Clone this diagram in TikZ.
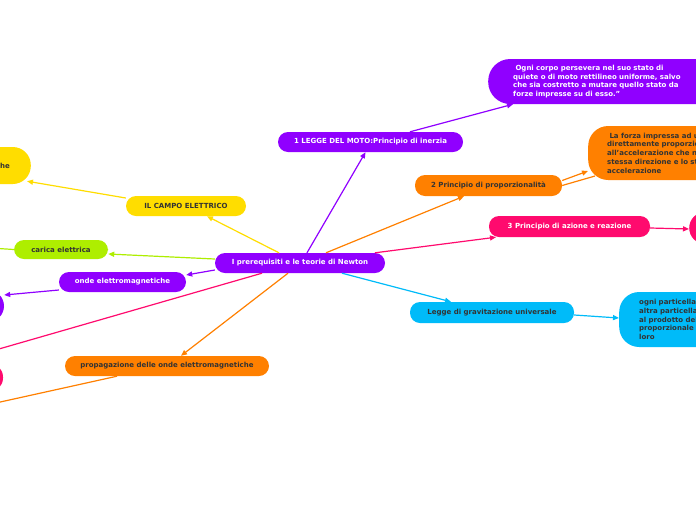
\documentclass[tikz,border=0pt]{standalone}
\usepackage{fontspec}
\setmainfont{DejaVu Sans}
\usepackage{tikz}
\usetikzlibrary{arrows.meta, positioning}
\definecolor{mapviolet}{HTML}{9000FF}
\definecolor{maporange}{HTML}{FF8000}
\definecolor{mappink}{HTML}{FF0A6E}
\definecolor{mapcyan}{HTML}{00BBF9}
\definecolor{mapyellow}{HTML}{FFDD00}
\definecolor{maplime}{HTML}{AEEE00}
\definecolor{maptext}{HTML}{333333}

\begin{document}
\begin{tikzpicture}[x=1pt, y=-1pt, >={Triangle[length=6pt,width=5pt]},
  topic/.style={rectangle, rounded corners=10pt, minimum height=20pt, inner sep=0pt, font=\fontsize{7}{9}\selectfont\bfseries},
  light/.style={topic, text=white},
  dark/.style={topic, text=maptext},
  textbox/.style={rectangle, rounded corners=20pt, align=left, inner ysep=3pt, font=\fontsize{7}{8.8}\selectfont\bfseries},
  link/.style={->, line width=1.2pt}]

  \useasboundingbox (0,0) rectangle (696,520);
  \clip (0,0) rectangle (696,520);
  \fill[white] (0,0) rectangle (696,520);

  \node [light, fill=mapviolet, minimum width=170pt] (newton) at (300,263) {I prerequisiti e le teorie di Newton};

  \node [light, fill=mapviolet, minimum width=185pt] (moto) at (370.5,142) {1 LEGGE DEL MOTO:Principio di inerzia};
  \node [textbox, fill=mapviolet, text=white, text width=200pt, inner xsep=25pt, minimum height=45pt, rounded corners=22pt, anchor=west] (inerzia) at (488,81.5) {%
    \ Ogni corpo persevera nel suo stato di\\
    quiete o di moto rettilineo uniforme, salvo\\
    che sia costretto a mutare quello stato da\\
    forze impresse su di esso.''};

  \node [dark, fill=maporange, minimum width=147pt, minimum height=21pt] (prop) at (488.5,185.5) {2 Principio di proporzionalità};
  \node [textbox, fill=maporange, text=maptext, text width=150pt, inner xsep=19pt, minimum height=54pt, anchor=west] (forza) at (588,153) {%
    \ La forza impressa ad un\\
    direttamente proporzionale\\
    all'accelerazione che ne\\
    stessa direzione e lo stesso\\
    accelerazione};

  \node [light, fill=mappink, minimum width=161pt, minimum height=21pt] (azione) at (569.5,226.5) {3 Principio di azione e reazione};
  \node [topic, fill=mappink, minimum width=60pt, minimum height=32pt, rounded corners=16pt, anchor=west] (reazione) at (689,228) {};

  \node [dark, fill=mapcyan, minimum width=164pt, minimum height=21pt] (grav) at (492,312.5) {Legge di gravitazione universale};
  \node [textbox, fill=mapcyan, text=maptext, text width=120pt, inner xsep=20pt, minimum height=55pt, anchor=west] (particella) at (619,319.5) {%
    ogni particella\\
    altra particella\\
    al prodotto delle\\
    proporzionale\\
    loro};

  \node [dark, fill=mapyellow, minimum width=120pt] (campo) at (186,206) {IL CAMPO ELETTRICO};
  \node [dark, fill=mapyellow, minimum height=37pt, rounded corners=18pt, inner xsep=21pt, anchor=east] (cariche) at (31,165.5) {cariche};

  \node [dark, fill=maplime, minimum width=94pt, minimum height=19pt] (carica) at (61,249.5) {carica elettrica};
  \coordinate (caricaout) at (-40,246);

  \node [light, fill=mapviolet, minimum width=127pt] (onde) at (122.5,282) {onde elettromagnetiche};
  \node [topic, fill=mapviolet, minimum width=60pt, minimum height=32pt, rounded corners=16pt] (ondeout) at (-26,306) {};

  \node [topic, fill=mappink, minimum width=80pt, minimum height=29pt, rounded corners=14pt] (pinkout) at (-37,377.5) {};

  \node [dark, fill=maporange, minimum width=204pt] (propag) at (167,366) {propagazione delle onde elettromagnetiche};
  \coordinate (propagout) at (-45,412);

  \draw[link, mapviolet] ([xshift=7pt]newton.north) -- ([xshift=-5pt]moto.south);
  \draw[link, mapyellow] ([xshift=-21pt]newton.north) -- ([xshift=21pt]campo.south);
  \draw[link, maplime] ([yshift=4pt]newton.west) -- ([yshift=-4.5pt]carica.east);
  \draw[link, mapviolet] ([yshift=-7pt]newton.west) -- ([yshift=7pt]onde.east);
  \draw[link, maporange] ([xshift=26pt]newton.north) -- ([xshift=-24.5pt]prop.south);
  \draw[link, mappink] ([xshift=75pt]newton.north) -- ([xshift=-73.5pt]azione.south);
  \draw[link, mapcyan] ([xshift=42pt]newton.south) -- ([xshift=-41pt]grav.north);
  \draw[link, maporange] ([xshift=-12pt]newton.south) -- ([xshift=14pt]propag.north);
  \draw[link, mappink] ([xshift=-38pt]newton.south) -- ([xshift=-12pt]pinkout.north);

  \draw[link, mapviolet] ([xshift=39.5pt]moto.north) -- ([xshift=25pt]inerzia.south west);
  \draw[link, maporange] ([yshift=5pt]prop.east) -- ([yshift=-18pt]forza.west);
  \draw[line width=1.2pt, maporange] (prop.east) -- ([xshift=7pt,yshift=-23pt]forza.west);
  \draw[link, mappink] ([yshift=-1.5pt]azione.east) -- ([yshift=-1pt]reazione.west);
  \draw[link, mapcyan] ([yshift=-2.5pt]grav.east) -- ([yshift=1.5pt]particella.west);
  \draw[link, mapyellow] ([yshift=8pt]campo.west) -- ([xshift=-4pt,yshift=3pt]cariche.south east);
  \draw[link, maplime] (carica.west) -- (caricaout);
  \draw[link, mapviolet] ([yshift=-8pt]onde.west) -- ([yshift=11pt]ondeout.east);
  \draw[link, maporange] ([xshift=-50pt]propag.south) -- (propagout);
\end{tikzpicture}
\end{document}
